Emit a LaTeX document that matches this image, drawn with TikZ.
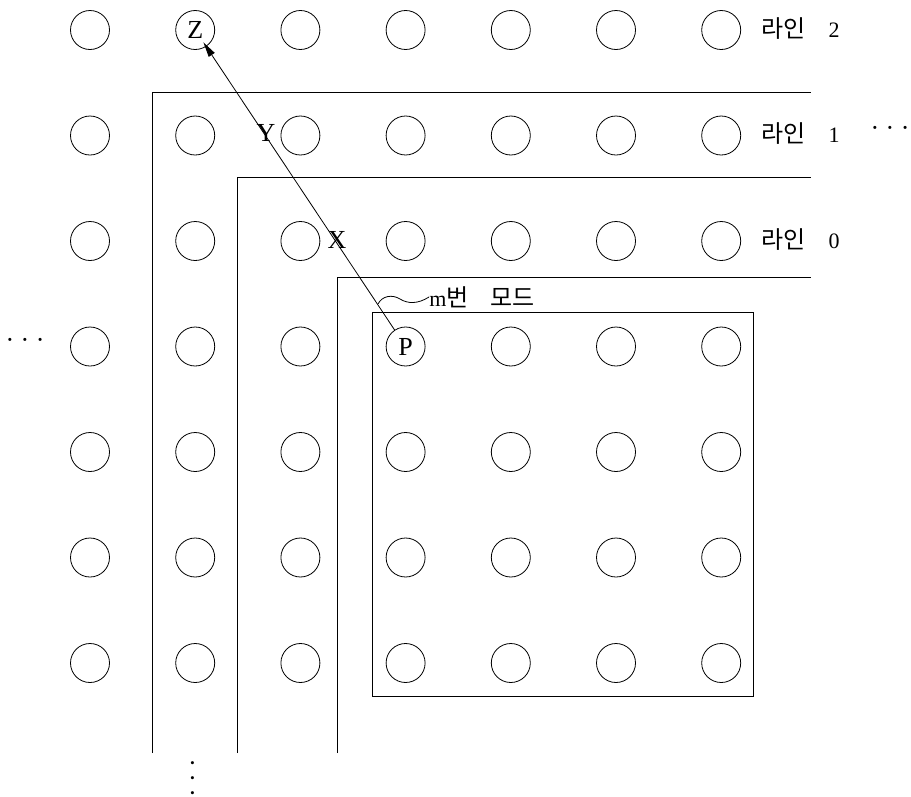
\documentclass[tikz,border=0pt]{standalone}
\usepackage{fontspec}
\setmainfont{Liberation Serif}
\newfontfamily\kor{Noto Sans CJK KR}
\usetikzlibrary{arrows.meta}
\tikzset{
  mode/.style={circle,draw,minimum size=39pt,inner sep=0pt},
  tag/.style={inner sep=0pt,font=\fontsize{26}{28}\selectfont},
  linelabel/.style={anchor=west,inner sep=0pt,font=\fontsize{22}{24}\selectfont},
  dotlabel/.style={inner sep=0pt,font=\fontsize{26}{28}\selectfont},
}
\newcommand\kr[1]{{\kor\fontsize{24}{26}\selectfont #1}}
\newcommand\rowdots{\textperiodcentered\hspace{6.5pt}\textperiodcentered\hspace{6.5pt}\textperiodcentered}

\begin{document}
\begin{tikzpicture}[x=1pt,y=-1pt,line width=0.8pt]
  \useasboundingbox (0,0) rectangle (911,796);
  \foreach \i in {0,...,6}
    \foreach \j in {0,...,6}
      \node[mode] (c-\i-\j) at ({90+105.2*\i},{30+105.5*\j}) {};
  \node[tag] (Z) at (c-1-0) {Z};
  \node[tag] (P) at (c-3-3) {P};
  \draw (152,753) |- (811,92);
  \draw (237,753) |- (811,177);
  \draw (337,753) |- (811,277);
  \draw (372,312) rectangle (753,696);
  \draw[-{Triangle[length=15pt,width=7pt]},shorten >=-5pt] (c-3-3) -- (c-1-0);
  \node[tag] (Y) at (266,133) {Y};
  \node[tag] (X) at (337,240) {X};
  \node[linelabel] (line2) at (761,29) {\kr{라인}\hspace{23pt}2};
  \node[linelabel] (line1) at (761,134) {\kr{라인}\hspace{23pt}1};
  \node[linelabel] (line0) at (761,240) {\kr{라인}\hspace{23pt}0};
  \node[dotlabel] (rdots) at (890,131) {\rowdots};
  \node[dotlabel] (ldots) at (25,343) {\rowdots};
  \node[dotlabel,rotate=90] (bdots) at (196,778) {\rowdots};
  \coordinate (lead) at (378,304);
  \node[linelabel] (mlabel) at (429,297) {m\kr{번}\hspace{22pt}\kr{모드}};
  \draw (lead) .. controls (382,296) and (392,294) .. (400,299) .. controls (408,304) and (418,304) .. (mlabel.west);
\end{tikzpicture}
\end{document}
